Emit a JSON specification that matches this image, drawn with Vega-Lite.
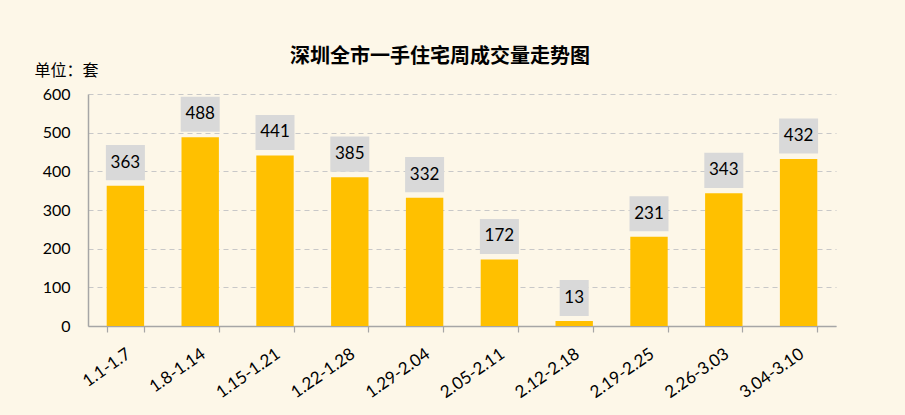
{
  "$schema": "https://vega.github.io/schema/vega-lite/v6.json",
  "autosize": {"type": "none"},
  "width": 748,
  "height": 232,
  "padding": {"left": 88, "top": 94, "right": 69, "bottom": 89},
  "background": "#FDF7E8",
  "title": {
    "text": "深圳全市一手住宅周成交量走势图",
    "font": "Noto Sans CJK SC",
    "fontSize": 20,
    "fontWeight": "bold",
    "color": "#000000",
    "anchor": "middle",
    "dx": -22,
    "offset": -5
  },
  "config": {
    "view": {"stroke": null},
    "font": "Lato"
  },
  "data": {
    "values": [
      {"week": "1.1-1.7", "v": 363},
      {"week": "1.8-1.14", "v": 488},
      {"week": "1.15-1.21", "v": 441},
      {"week": "1.22-1.28", "v": 385},
      {"week": "1.29-2.04", "v": 332},
      {"week": "2.05-2.11", "v": 172},
      {"week": "2.12-2.18", "v": 13},
      {"week": "2.19-2.25", "v": 231},
      {"week": "2.26-3.03", "v": 343},
      {"week": "3.04-3.10", "v": 432}
    ]
  },
  "encoding": {
    "x": {
      "field": "week",
      "type": "nominal",
      "sort": null,
      "scale": {"paddingInner": 0.5, "paddingOuter": 0.25},
      "axis": {
        "title": null,
        "labelAngle": -35,
        "labelAlign": "right",
        "labelBaseline": "middle",
        "labelFont": "Lato",
        "labelFontSize": 17,
        "labelColor": "#000000",
        "labelPadding": 20,
        "labelOffset": 3,
        "tickBand": "extent",
        "domainColor": "#A6A6A6",
        "domainWidth": 1.5,
        "tickColor": "#A6A6A6",
        "tickSize": 6,
        "tickWidth": 1.2
      }
    },
    "y": {
      "field": "v",
      "type": "quantitative",
      "scale": {"domain": [0, 600]},
      "axis": {
        "values": [0, 100, 200, 300, 400, 500, 600],
        "title": "单位：套",
        "titleFont": "Noto Sans CJK SC",
        "titleFontSize": 16,
        "titleFontWeight": "normal",
        "titleColor": "#000000",
        "titleAngle": 0,
        "titleAlign": "left",
        "titleBaseline": "middle",
        "titleX": -54,
        "titleY": -24,
        "labelFont": "Lato",
        "labelFontSize": 16,
        "labelColor": "#000000",
        "labelPadding": 18,
        "ticks": false,
        "domainColor": "#A6A6A6",
        "domainWidth": 1.5,
        "grid": true,
        "gridColor": "#C8C8C8",
        "gridDash": [5, 4],
        "gridWidth": 1.2
      }
    }
  },
  "layer": [
    {
      "mark": {"type": "bar", "color": "#FFC000"}
    },
    {
      "mark": {
        "type": "point",
        "filled": true,
        "color": "#D9D9D9",
        "opacity": 1,
        "size": 1521,
        "yOffset": -23,
        "strokeWidth": 0
      },
      "encoding": {
        "shape": {
          "condition": {"test": "datum.v < 100", "value": "M-0.744,-0.92H0.744V0.92H-0.744Z"},
          "value": "M-1,-0.9H1V0.9H-1Z"
        }
      }
    },
    {
      "mark": {
        "type": "text",
        "font": "Lato",
        "fontSize": 17,
        "color": "#000000",
        "baseline": "middle",
        "yOffset": -23
      },
      "encoding": {
        "text": {"field": "v", "type": "quantitative"}
      }
    }
  ]
}
